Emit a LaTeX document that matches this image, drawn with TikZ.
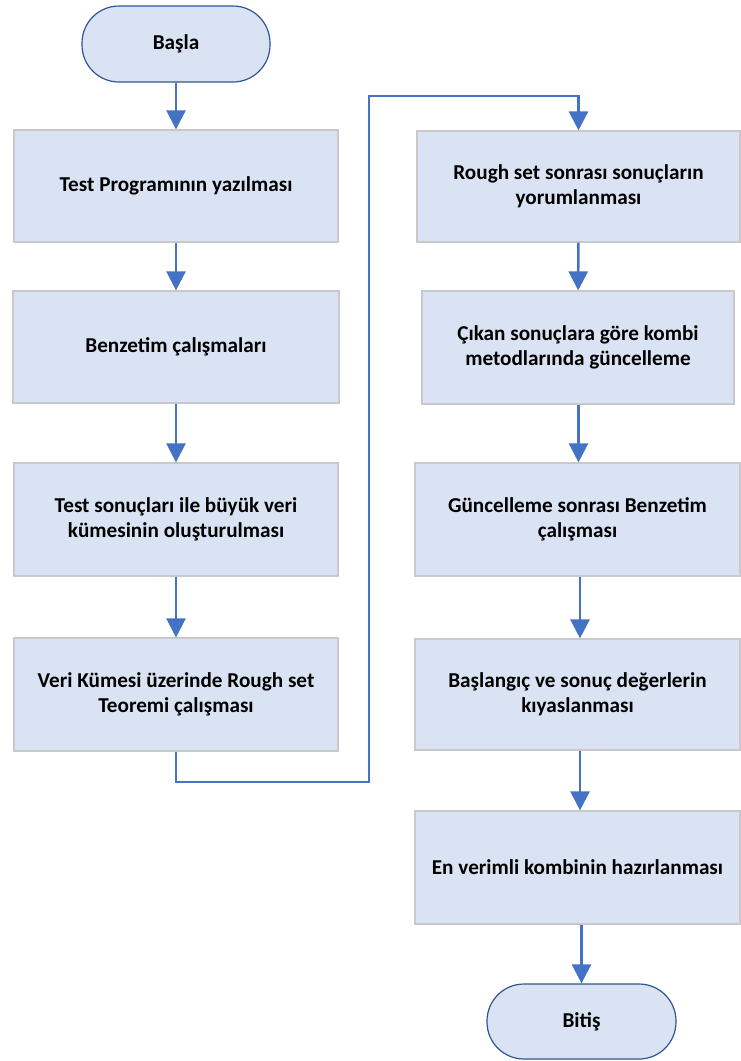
\documentclass[tikz,border=0pt]{standalone}
\usepackage{fontspec}
\setmainfont{Carlito}
\usetikzlibrary{arrows.meta}
\definecolor{boxfill}{HTML}{DAE3F3}
\definecolor{boxline}{HTML}{C9C9C9}
\definecolor{termline}{HTML}{2F5597}
\definecolor{arrowblue}{HTML}{4472C4}
\tikzset{
  txt/.style={font=\bfseries\fontsize{21.2}{25}\selectfont, align=center, text=black},
  procbox/.style={txt, draw=boxline, fill=boxfill, line width=1.2pt, inner sep=0pt},
  termbox/.style={txt, draw=termline, fill=boxfill, line width=1.2pt, rounded corners=37pt, inner sep=0pt},
  flow/.style={draw=arrowblue, line width=2.5pt, -{Triangle[width=19pt,length=19pt]}},
}
\begin{document}
\begin{tikzpicture}[x=1pt,y=-1pt]
\useasboundingbox (0,0) rectangle (741,1061);
% left column
\node[termbox, minimum width=188pt, minimum height=76pt] (start) at (176,44) {Başla};
\node[procbox, minimum width=324pt, minimum height=112pt] (b1) at (176,186) {Test Programının yazılması};
\node[procbox, minimum width=326pt, minimum height=112pt] (b2) at (176,347) {Benzetim çalışmaları};
\node[procbox, minimum width=324pt, minimum height=113pt] (b3) at (176,519.5) {Test sonuçları ile büyük veri\\kümesinin oluşturulması};
\node[procbox, minimum width=324pt, minimum height=113pt] (b4) at (176,694.5) {Veri Kümesi üzerinde Rough set\\Teoremi çalışması};
% right column
\node[procbox, minimum width=323pt, minimum height=111pt] (r1) at (578.5,186.5) {Rough set sonrası sonuçların\\yorumlanması};
\node[procbox, minimum width=312pt, minimum height=113pt] (r2) at (578,347.5) {Çıkan sonuçlara göre kombi\\metodlarında güncelleme};
\node[procbox, minimum width=325pt, minimum height=113pt] (r3) at (577.5,519.5) {Güncelleme sonrası Benzetim\\çalışması};
\node[procbox, minimum width=325pt, minimum height=111pt] (r4) at (577.5,694.5) {Başlangıç ve sonuç değerlerin\\kıyaslanması};
\node[procbox, minimum width=325pt, minimum height=113pt] (r5) at (577.5,867.5) {En verimli kombinin hazırlanması};
\node[termbox, minimum width=189pt, minimum height=75pt] (end) at (581.5,1021.5) {Bitiş};
% connectors
\coordinate (c1) at (369,782);
\coordinate (c2) at (369,96);
\draw[flow] (start) -- (b1);
\draw[flow] (b1) -- (b2);
\draw[flow] (b2) -- (b3);
\draw[flow] (b3) -- (b4);
\draw[flow] (b4.south) |- (c1) -- (c2) -| (r1.north);
\draw[flow] (r1) -- (r2);
\draw[flow] (r2.south -| r1.south) -- (r3.north -| r1.south);
\draw[flow] (r3.south -| 580,0) -- (r4.north -| 580,0);
\draw[flow] (r4.south -| 580,0) -- (r5.north -| 580,0);
\draw[flow] (r5.south -| end.north) -- (end.north);
\end{tikzpicture}
\end{document}
